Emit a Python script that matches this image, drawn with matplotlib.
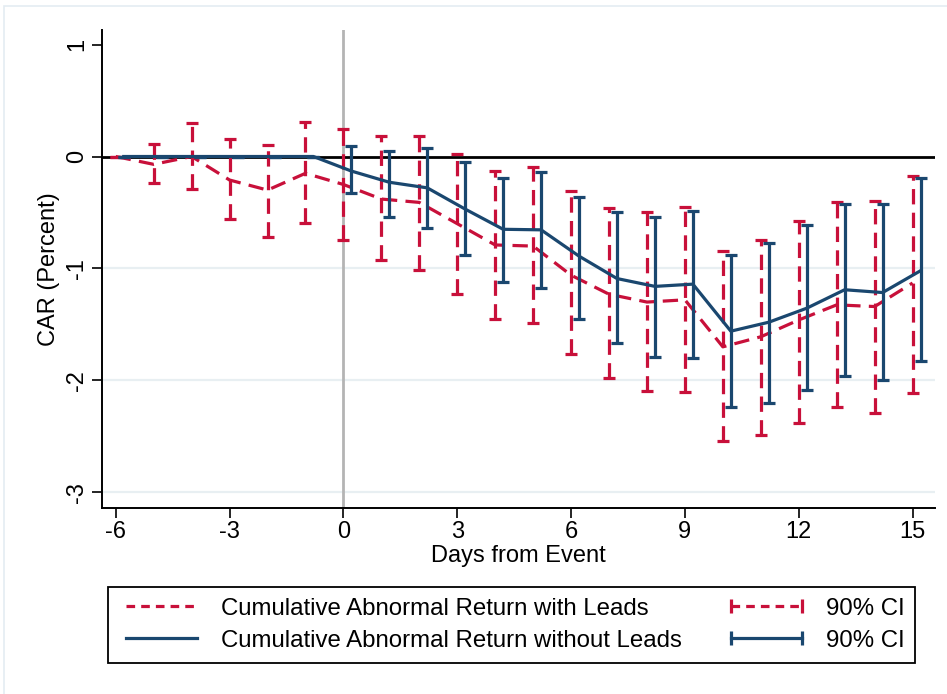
import matplotlib
matplotlib.use("Agg")
import matplotlib.pyplot as plt
from matplotlib.lines import Line2D
from matplotlib.patches import Rectangle
import numpy as np

plt.rcParams['font.family'] = ['Liberation Sans', 'DejaVu Sans']
plt.rcParams['axes.unicode_minus'] = False

# data
days = np.arange(-6, 16)

car_leads = [0, -0.07, 0, -0.21, -0.30, -0.15, -0.25, -0.38, -0.41, -0.60, -0.79,
             -0.80, -1.06, -1.23, -1.30, -1.28, -1.70, -1.61, -1.46, -1.325, -1.34, -1.13]
hi_leads = [0, 0.11, 0.30, 0.16, 0.10, 0.31, 0.25, 0.18, 0.18, 0.02, -0.125,
            -0.09, -0.31, -0.46, -0.50, -0.45, -0.84, -0.745, -0.58, -0.41, -0.40, -0.17]
lo_leads = [0, -0.24, -0.29, -0.56, -0.72, -0.59, -0.75, -0.92, -1.01, -1.23, -1.45,
            -1.49, -1.76, -1.975, -2.09, -2.10, -2.54, -2.49, -2.38, -2.24, -2.29, -2.11]

car_noleads = [0, 0, 0, 0, 0, 0, -0.13, -0.23, -0.28, -0.47, -0.65,
               -0.655, -0.89, -1.09, -1.16, -1.14, -1.56, -1.48, -1.355, -1.19, -1.215, -1.02]
hi_noleads = [0, 0, 0, 0, 0, 0, 0.09, 0.05, 0.08, -0.05, -0.19,
              -0.14, -0.36, -0.50, -0.54, -0.485, -0.88, -0.775, -0.61, -0.425, -0.42, -0.19]
lo_noleads = [0, 0, 0, 0, 0, 0, -0.33, -0.54, -0.64, -0.88, -1.12,
              -1.17, -1.45, -1.67, -1.79, -1.80, -2.24, -2.20, -2.085, -1.96, -2.00, -1.83]

red = '#c8103a'
blue = '#1a476f'
offset = 0.21  # second series shifted right a bit

fig = plt.figure(figsize=(9.47, 6.94), dpi=100)
ax = fig.add_axes([0.1074, 0.2687, 0.8799, 0.6881])

# light outer frame like the stata graph region
fig.patches.append(Rectangle((4 / 947, -0.5), 2.0, 1.5 - 6 / 694,
                             transform=fig.transFigure, fill=False,
                             edgecolor='#e4ecf2', linewidth=1.2))

for yv in [-1, -2, -3]:
    ax.axhline(yv, color='#e8eff2', linewidth=1.6, zorder=0)
ax.axhline(0, color='black', linewidth=2.0, zorder=1)
ax.axvline(0, color='#b4b4b4', linewidth=2.0, zorder=1)

dash = (0, (4.8, 2.6))

x_red = days
car_l = np.array(car_leads)
err_red = [car_l - np.array(lo_leads), np.array(hi_leads) - car_l]
eb1 = ax.errorbar(x_red, car_l, yerr=err_red, fmt='none', ecolor=red,
                  elinewidth=2.3, capsize=4.0, capthick=2.3, zorder=3)
eb1[2][0].set_linestyle(dash)
ax.plot(x_red, car_l, color=red, linewidth=2.3, linestyle=dash, zorder=3)

x_blue = days + offset
car_n = np.array(car_noleads)
err_blue = [car_n - np.array(lo_noleads), np.array(hi_noleads) - car_n]
ax.errorbar(x_blue, car_n, yerr=err_blue, fmt='none', ecolor=blue,
            elinewidth=2.3, capsize=4.0, capthick=2.3, zorder=4)
ax.plot(x_blue, car_n, color=blue, linewidth=2.3, zorder=4)

ax.set_xlim(-6.37, 15.59)
ax.set_ylim(-3.135, 1.13)
ax.set_xticks([-6, -3, 0, 3, 6, 9, 12, 15])
ax.set_yticks([1, 0, -1, -2, -3])
ax.set_yticklabels(['1', '0', '-1', '-2', '-3'], rotation=90, va='center')
ax.tick_params(axis='both', labelsize=17, length=7, width=1.2, color='black')
ax.tick_params(axis='y', pad=3)
ax.tick_params(axis='x', pad=3)

for side in ['top', 'right']:
    ax.spines[side].set_visible(False)
for side in ['left', 'bottom']:
    ax.spines[side].set_linewidth(1.4)

ax.set_xlabel('Days from Event', fontsize=17, labelpad=1)
ax.set_ylabel('CAR (Percent)', fontsize=17, labelpad=4)

ldash = (0, (2.7, 1.9))
handles = [
    Line2D([], [], color=red, linewidth=2.3, linestyle=ldash),
    Line2D([], [], color=blue, linewidth=2.3),
    Line2D([], [], color=red, linewidth=2.3, linestyle=ldash,
           marker='|', markersize=10, markeredgewidth=2.3),
    Line2D([], [], color=blue, linewidth=2.3,
           marker='|', markersize=10, markeredgewidth=2.3),
]
labels = ['Cumulative Abnormal Return with Leads',
          'Cumulative Abnormal Return without Leads',
          '90% CI', '90% CI']
leg = fig.legend(handles, labels, ncol=2, loc='upper left',
                 bbox_to_anchor=(108 / 947, 1 - 587 / 694),
                 fontsize=17.3, numpoints=2, handlelength=3.55, handletextpad=0.7,
                 columnspacing=1.75, labelspacing=0.42, borderpad=0.45,
                 borderaxespad=0, fancybox=False, edgecolor='black', framealpha=1)
leg.get_frame().set_linewidth(1.3)

fig.savefig('out.png', dpi=100)
